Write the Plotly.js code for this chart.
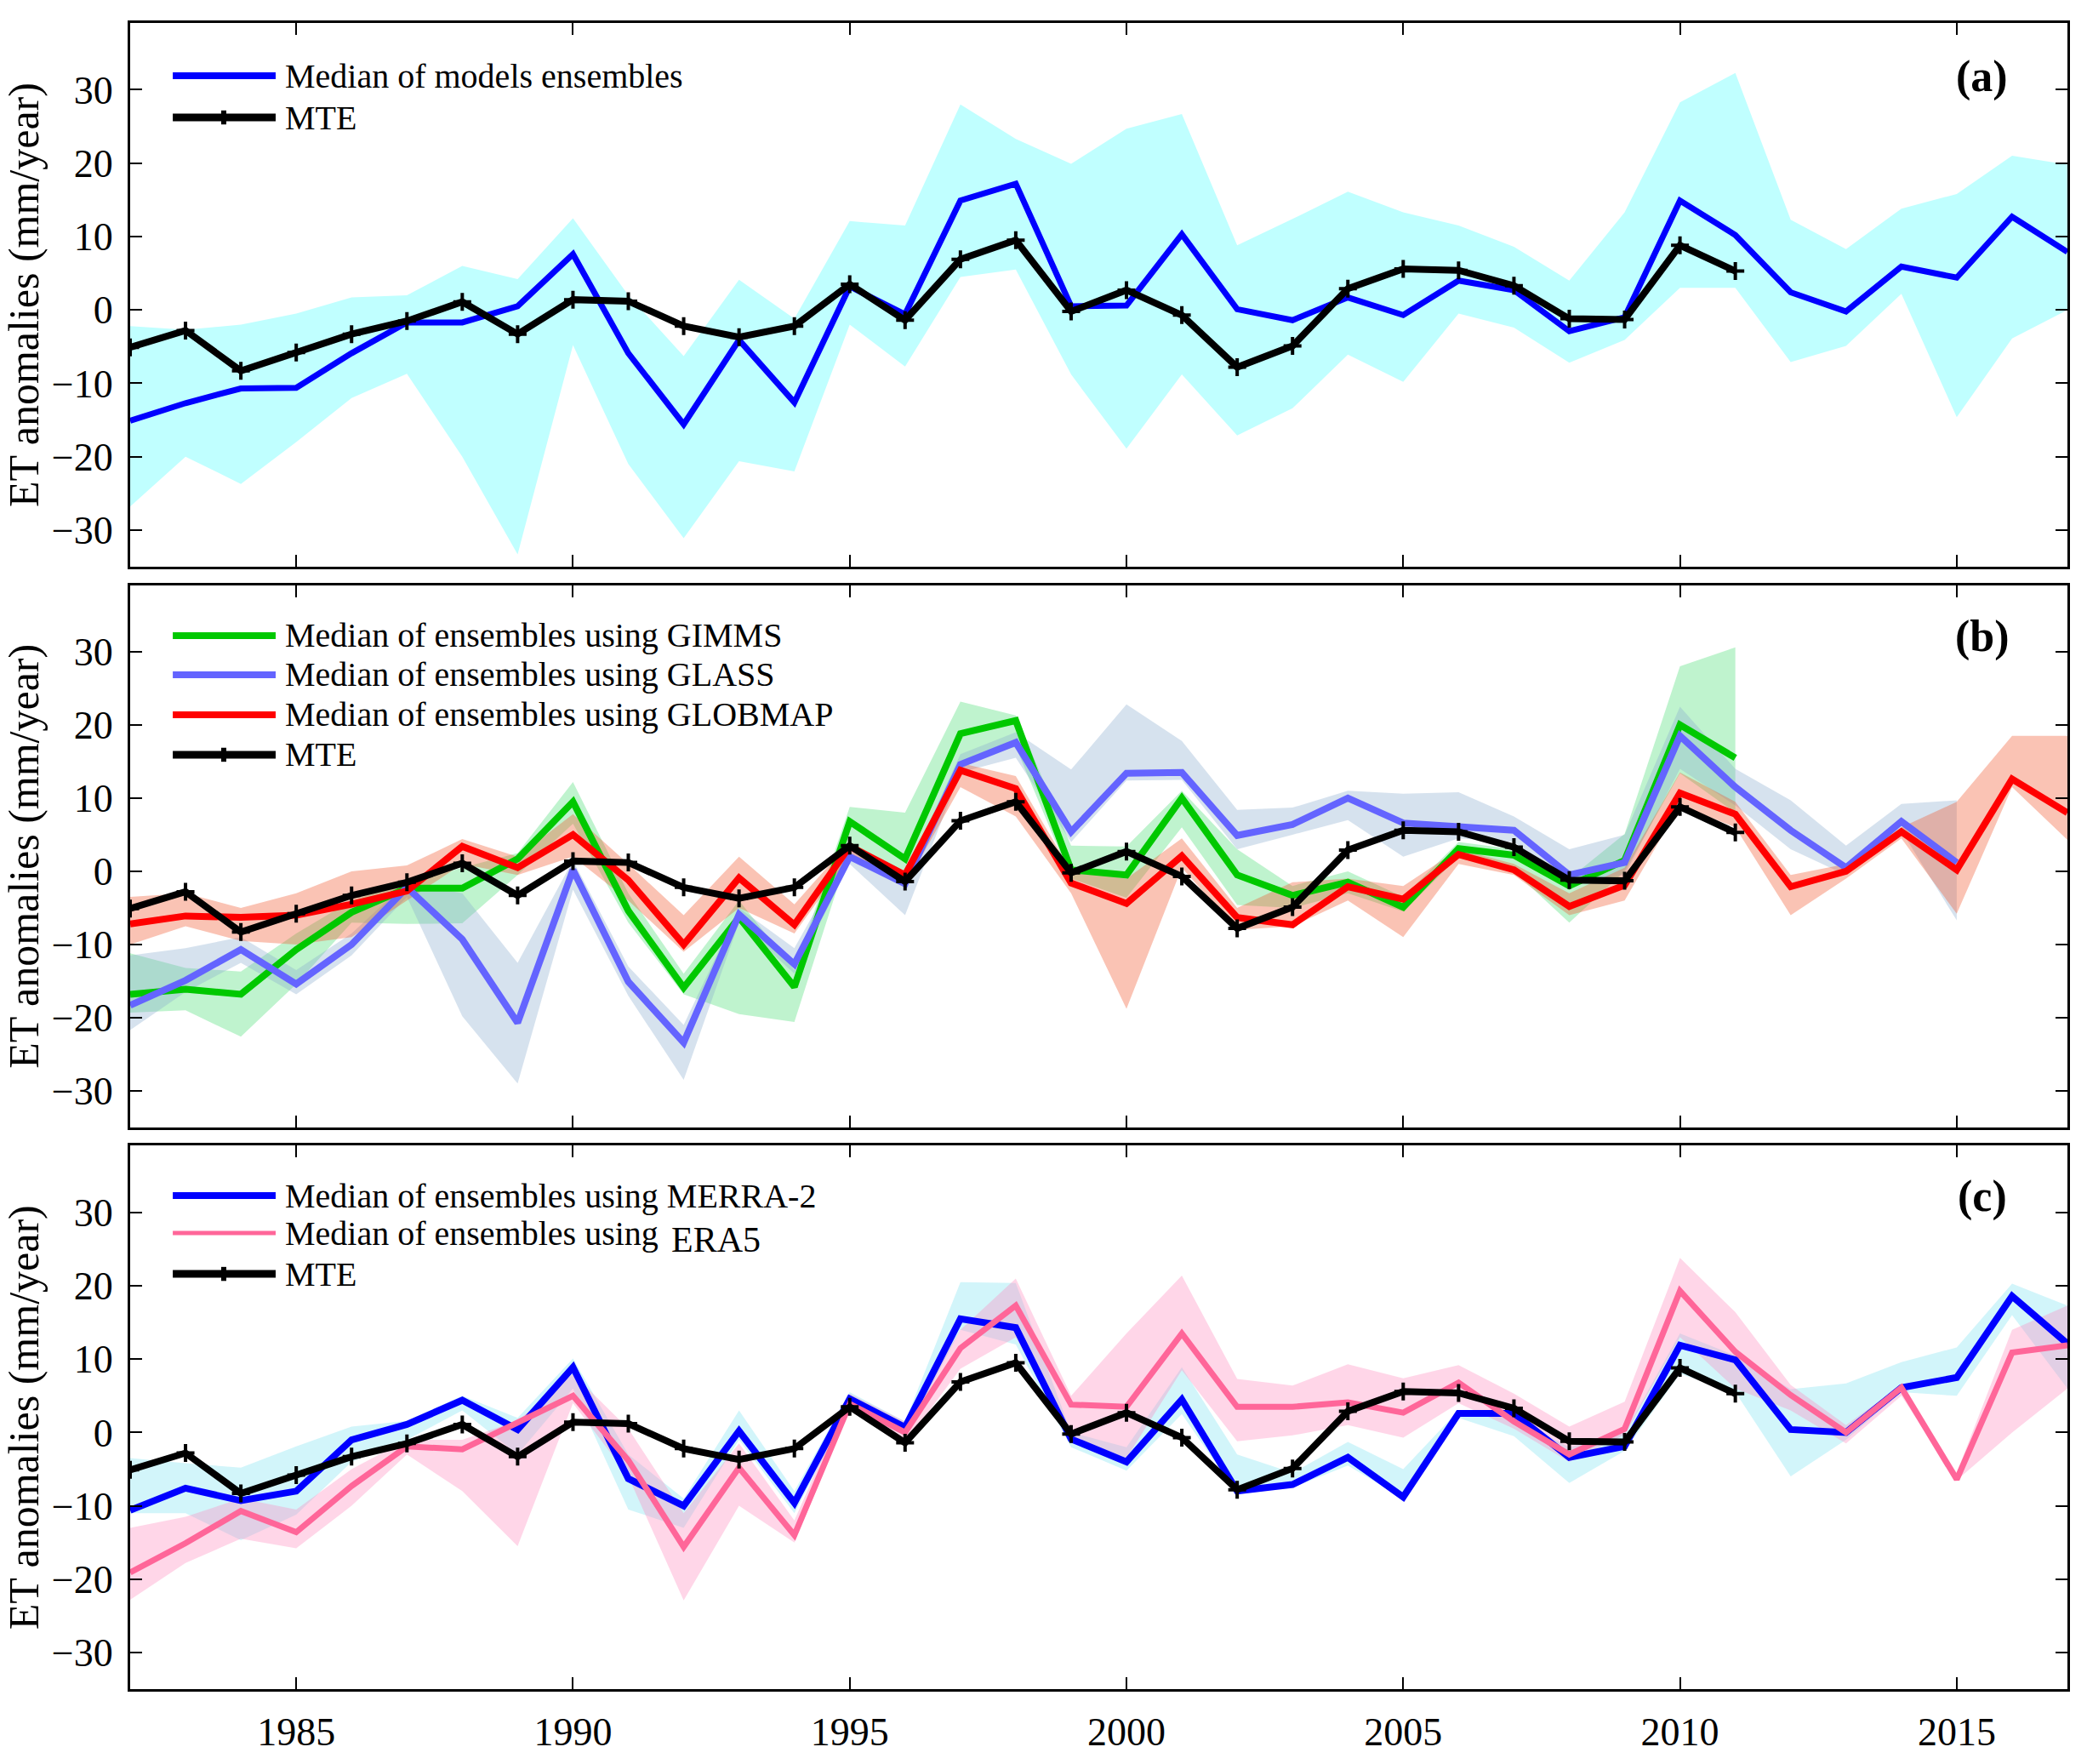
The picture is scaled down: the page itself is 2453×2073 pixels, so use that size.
<!DOCTYPE html>
<html><head><meta charset="utf-8">
<script src="https://cdn.plot.ly/plotly-3.0.1.min.js"></script>
<style>html,body{margin:0;padding:0;background:#fff}</style>
</head><body><div id="chart" style="width:2453px;height:2073px"></div>
<script>
// ---------- data ----------
const years = [1982,1983,1984,1985,1986,1987,1988,1989,1990,1991,1992,1993,1994,1995,1996,1997,1998,1999,2000,2001,2002,2003,2004,2005,2006,2007,2008,2009,2010,2011,2012,2013,2014,2015,2016,2017];
const xTicks = [1985,1990,1995,2000,2005,2010,2015];
const yTicks = [-30,-20,-10,0,10,20,30];

// MTE (1982-2011)
const mte = [-5.1,-2.8,-8.3,-5.8,-3.3,-1.5,1.1,-3.3,1.4,1.2, -2.2,-3.7,-2.2,3.5,-1.4,6.9,9.5,-0.2,2.7,-0.7, -7.8,-4.9,2.9,5.6,5.4,3.3,-1.2,-1.3,8.8,5.3];

// (a) all model ensembles
const allMed = [-15.1,-12.7,-10.7,-10.6,-5.9,-1.7,-1.7,0.5,7.6,-5.9, -15.6,-4.1,-12.6,3.2,-0.6,14.9,17.2,0.5,0.6,10.3, 0.1,-1.4,1.7,-0.7,4.0,2.7,-2.9,-1.0,14.9,10.2, 2.4,-0.2,5.9,4.4,12.7,7.9];
const allUp  = [-2.2,-2.7,-2.0,-0.5,1.7,2.0,6.0,4.2,12.5,2.0, -6.3,4.1,-1.2,12.1,11.5,28.0,23.3,19.9,24.7,26.7, 8.8,12.4,16.1,13.3,11.5,8.6,4.0,13.3,28.3,32.3, 12.3,8.3,13.8,15.8,21.0,19.8];
const allLo  = [-26.8,-20.0,-23.7,-18.0,-12.0,-8.7,-20.0,-33.3,-4.8,-21.0, -31.1,-20.6,-22.0,-2.0,-7.7,4.5,5.5,-8.8,-18.9,-8.8, -17.1,-13.4,-6.1,-9.8,-0.5,-2.4,-7.2,-4.1,3.0,3.0, -7.1,-4.9,2.2,-14.6,-3.9,0.0];

// (b) GIMMS (1982-2011)
const gimms   = [-16.8,-16.1,-16.8,-10.7,-5.6,-2.3,-2.3,1.7,9.5,-5.4, -15.9,-6.3,-15.8,6.8,1.7,18.8,20.6,0.2,-0.5,10.0, -0.5,-3.3,-1.5,-4.9,3.1,2.2,-2.0,1.5,20.0,15.5];
const gimmsUp = [-11.2,-13.2,-13.7,-8.5,-4.0,-1.5,0.5,2.5,12.2,-3.0, -14.0,-4.0,-13.5,8.8,8.0,23.2,21.3,3.5,3.4,11.0, 3.0,-2.0,0.0,-3.5,4.0,3.0,-1.0,5.1,28.0,30.6];
const gimmsLo = [-19.3,-19.0,-22.6,-15.4,-7.0,-7.2,-7.1,-0.5,6.5,-7.0, -16.8,-19.5,-20.6,3.0,-2.0,15.0,17.0,-1.0,-3.6,6.0, -4.6,-5.0,-3.0,-5.5,2.0,0.0,-7.0,0.0,13.4,8.0];
// (b) GLASS (1982-2015)
const glass   = [-18.3,-14.9,-10.7,-15.4,-10.0,-2.2,-9.3,-20.7,0.2,-15.1, -23.4,-5.9,-12.7,2.0,-1.7,14.6,17.6,5.4,13.4,13.5, 4.9,6.4,10.0,6.6,6.1,5.6,-0.5,1.2,18.5,11.5, 5.6,0.5,6.8,1.2];
const glassUp = [-11.5,-10.5,-9.0,-13.5,-8.5,-1.5,-3.0,-12.5,1.5,-13.0, -21.0,-5.0,-10.5,3.0,-0.5,16.0,19.0,13.9,22.8,17.8, 8.4,8.7,11.0,10.6,10.8,7.5,3.0,5.0,22.5,14.0, 9.7,3.5,9.2,9.7];
const glassLo = [-21.7,-16.5,-12.5,-16.8,-11.5,-3.5,-19.8,-29.0,-2.5,-17.0, -28.5,-7.0,-14.0,1.0,-6.0,13.5,15.5,4.0,12.4,12.5, 3.0,5.0,7.0,2.0,4.5,4.0,-1.5,-0.5,14.0,9.0, 3.0,-0.5,5.5,-6.7];
// (b) GLOBMAP (1982-2017)
const globmap = [-7.2,-6.1,-6.3,-6.0,-4.5,-2.7,3.4,0.5,5.0,-1.2, -10.0,-0.9,-7.3,3.4,-0.5,13.8,11.3,-1.6,-4.4,2.1, -6.3,-7.3,-2.1,-3.8,2.3,0.2,-4.8,-1.9,10.7,7.8, -2.1,0.0,5.4,0.2,12.6,8.0];
const globUp  = [-3.5,-3.0,-5.0,-3.0,0.0,0.8,4.4,2.0,7.8,1.0, -6.0,2.0,-4.5,4.0,0.0,14.8,13.0,0.0,-1.0,4.5, -5.0,-1.5,-1.0,-2.0,3.0,1.0,-3.0,0.5,13.5,9.5, -0.5,1.0,6.0,9.5,18.5,18.5];
const globLo  = [-10.0,-7.5,-9.5,-10.0,-9.0,-4.0,1.0,-0.5,2.0,-4.0, -11.0,-5.0,-8.5,2.0,-2.0,11.5,7.5,-3.0,-18.8,0.5, -8.0,-7.5,-4.0,-9.0,1.0,-0.5,-6.0,-4.0,9.0,6.0, -6.0,-1.0,4.5,-5.8,11.5,4.3];

// (c) MERRA-2 (1982-2017)
const merra   = [-10.6,-7.6,-9.3,-8.0,-1.0,1.1,4.4,0.4,8.9,-6.3, -10.0,0.2,-9.6,4.6,0.7,15.5,14.3,-0.9,-4.0,4.5, -8.0,-7.1,-3.4,-8.8,2.6,2.6,-3.4,-1.9,11.9,9.9, 0.4,0.0,6.1,7.5,18.6,12.1];
const merraUp = [-3.5,-4.2,-4.8,-1.9,0.8,1.6,5.0,2.0,10.1,-3.0, -9.0,3.0,-8.0,5.5,1.5,20.5,20.4,0.0,-2.0,8.9, -3.0,-5.5,-1.3,-5.0,3.0,2.0,-2.0,0.0,13.5,10.5, 5.9,6.7,9.6,11.6,20.3,17.3];
const merraLo = [-11.0,-11.0,-14.7,-11.2,-4.0,-1.0,3.0,-3.0,6.0,-10.5, -13.0,-1.0,-11.0,3.5,-0.5,14.0,12.0,-2.0,-5.2,2.5, -8.4,-7.5,-4.5,-9.0,2.0,-0.5,-6.9,-2.5,8.0,5.5, -6.0,-1.0,5.5,5.0,16.0,6.0];
// (c) ERA5 (1982-2017)
const era5    = [-19.1,-15.1,-10.7,-13.6,-7.3,-1.9,-2.3,1.4,5.0,-3.8, -15.6,-4.8,-14.0,3.9,0.0,11.5,17.3,3.8,3.5,13.5, 3.5,3.5,4.1,2.7,6.8,1.5,-3.0,0.5,19.3,11.0, 5.1,0.0,6.1,-6.4,10.9,11.9];
const eraUp   = [-13.0,-11.5,-9.0,-10.5,-5.0,-1.0,-1.0,1.6,8.0,0.5, -11.0,-1.5,-12.0,5.3,1.5,14.0,21.0,5.0,13.5,21.4, 7.3,6.4,9.3,7.4,9.2,5.3,0.8,4.2,23.8,16.4, 6.5,1.0,6.5,-5.5,14.0,17.3];
const eraLo   = [-22.8,-17.8,-14.5,-15.8,-10.0,-3.0,-8.0,-15.5,4.0,-6.0, -22.9,-10.0,-15.0,3.0,-1.5,8.7,13.0,-0.5,-3.5,8.5, -1.2,-0.4,1.0,-0.7,4.0,0.5,-4.0,-0.3,13.0,6.0, 3.0,-1.5,5.0,-6.5,0.0,6.0];

// ---------- styling ----------
const FONT = '"Liberation Serif", "Times New Roman", Times, serif';
const C = {
  blue:'#0000ff', green:'#00c800', glass:'#6464ff', red:'#ff0000', pink:'#ff6699', black:'#000000',
  cyanA:'rgb(192,255,255)',
  gimmsF:'rgba(72,221,115,0.35)', glassF:'rgba(138,172,206,0.35)', globF:'rgba(241,84,41,0.35)',
  merraF:'rgba(126,226,241,0.35)', eraF:'rgba(255,138,189,0.35)'
};
const LW = 8;

function band(up, lo, color, xa, ya){
  const n = up.length;
  const xs = years.slice(0,n);
  return {x: xs.concat(xs.slice().reverse()), y: up.concat(lo.slice().reverse()),
    type:'scatter', mode:'lines', fill:'toself', fillcolor:color, line:{width:0},
    hoverinfo:'skip', showlegend:false, xaxis:xa, yaxis:ya};
}
function med(vals, color, xa, ya, name, w){
  return {x: years.slice(0, vals.length), y: vals, type:'scatter', mode:'lines', name:name,
    line:{color:color, width:w||LW}, showlegend:false, xaxis:xa, yaxis:ya};
}
function mteTrace(xa, ya){
  return {x: years.slice(0, mte.length), y: mte, type:'scatter', mode:'lines+markers', name:'MTE',
    line:{color:C.black, width:LW}, marker:{symbol:'cross-thin', size:15, color:C.black, line:{width:4, color:C.black}},
    showlegend:false, xaxis:xa, yaxis:ya};
}

const traces = [
  band(allUp, allLo, C.cyanA, 'x', 'y'),
  med(allMed, C.blue, 'x', 'y', 'Median of models ensembles', 7),
  mteTrace('x','y'),

  band(gimmsUp, gimmsLo, C.gimmsF, 'x2', 'y2'),
  band(glassUp, glassLo, C.glassF, 'x2', 'y2'),
  band(globUp, globLo, C.globF, 'x2', 'y2'),
  med(gimms, C.green, 'x2', 'y2', 'Median of ensembles using GIMMS'),
  med(glass, C.glass, 'x2', 'y2', 'Median of ensembles using GLASS'),
  med(globmap, C.red, 'x2', 'y2', 'Median of ensembles using GLOBMAP'),
  mteTrace('x2','y2'),

  band(merraUp, merraLo, C.merraF, 'x3', 'y3'),
  band(eraUp, eraLo, C.eraF, 'x3', 'y3'),
  med(merra, C.blue, 'x3', 'y3', 'Median of ensembles using MERRA-2'),
  med(era5, C.pink, 'x3', 'y3', 'Median of ensembles using ERA5', 7),
  mteTrace('x3','y3')
];

function xax(anchor, labels){
  return {range:[1982,2017], tickvals:xTicks, ticktext:xTicks.map(String), showticklabels:labels,
    ticks:'inside', ticklen:14, tickwidth:2, tickcolor:'#000', showline:true, linewidth:3, linecolor:'#000',
    mirror:'ticks', showgrid:false, zeroline:false, anchor:anchor, ticklabelstandoff:8,
    tickfont:{family:FONT, size:46, color:'#000'}};
}
function yax(anchor, domain){
  return {range:[-35,39.1], tickvals:yTicks, ticks:'inside', ticklen:14, tickwidth:2, tickcolor:'#000',
    showline:true, linewidth:3, linecolor:'#000', mirror:'ticks', showgrid:false, zeroline:false,
    anchor:anchor, domain:domain, ticklabelstandoff:8,
    tickfont:{family:FONT, size:46, color:'#000'},
    title:{text:'ET anomalies (mm/year)', font:{family:FONT, size:50, color:'#000'}, standoff:8}};
}

// manual legends (paper coords)
const LX0 = 0.0220, LX1 = 0.0751, LXM = 0.0483, LTX = 0.0791;
const legendRows = [
  {y:0.9683, color:C.blue, w:8, text:'Median of models ensembles'},
  {y:0.9433, color:C.black, w:9, text:'MTE', marker:true},
  {y:0.6323, color:C.green, w:8, text:'Median of ensembles using GIMMS'},
  {y:0.6088, color:C.glass, w:8, text:'Median of ensembles using GLASS'},
  {y:0.5848, color:C.red, w:8, text:'Median of ensembles using GLOBMAP'},
  {y:0.5608, color:C.black, w:9, text:'MTE', marker:true},
  {y:0.2962, color:C.blue, w:8, text:'Median of ensembles using MERRA-2'},
  {y:0.2737, color:C.pink, w:5, text:'Median of ensembles using', extra:'ERA5'},
  {y:0.2492, color:C.black, w:9, text:'MTE', marker:true}
];
const shapes = [], annotations = [];
legendRows.forEach(r => {
  shapes.push({type:'line', xref:'paper', yref:'paper', x0:LX0, x1:LX1, y0:r.y, y1:r.y, line:{color:r.color, width:r.w}});
  if (r.marker) shapes.push({type:'line', xref:'paper', yref:'paper', x0:LXM, x1:LXM, y0:r.y-0.0042, y1:r.y+0.0042, line:{color:C.black, width:6}});
  annotations.push({xref:'paper', yref:'paper', x:LTX, y:r.y, xanchor:'left', yanchor:'middle', showarrow:false,
    text:r.text, font:{family:FONT, size:40, color:'#000'}});
  if (r.extra) annotations.push({xref:'paper', yref:'paper', x:0.2784, y:r.y-0.0040, xanchor:'left', yanchor:'middle', showarrow:false,
    text:r.extra, font:{family:FONT, size:42, color:'#000'}});
});
[['(a)',0.9678],['(b)',0.6318],['(c)',0.2957]].forEach(p => {
  annotations.push({xref:'paper', yref:'paper', x:0.956, y:p[1], xanchor:'center', yanchor:'middle', showarrow:false,
    text:'<b>'+p[0]+'</b>', font:{family:FONT, size:52, color:'#000'}});
});

const layout = {
  width:2453, height:2073, margin:{l:153, r:23, t:27, b:88},
  paper_bgcolor:'#fff', plot_bgcolor:'#fff', showlegend:false,
  font:{family:FONT, color:'#000'},
  xaxis: xax('y', false), yaxis: yax('x', [0.6736, 1]),
  xaxis2: xax('y2', false), yaxis2: yax('x2', [0.3371, 0.6626]),
  xaxis3: xax('y3', true), yaxis3: yax('x3', [0, 0.3261]),
  shapes: shapes, annotations: annotations
};

Plotly.newPlot('chart', traces, layout, {staticPlot:true, displayModeBar:false});
</script></body></html>
